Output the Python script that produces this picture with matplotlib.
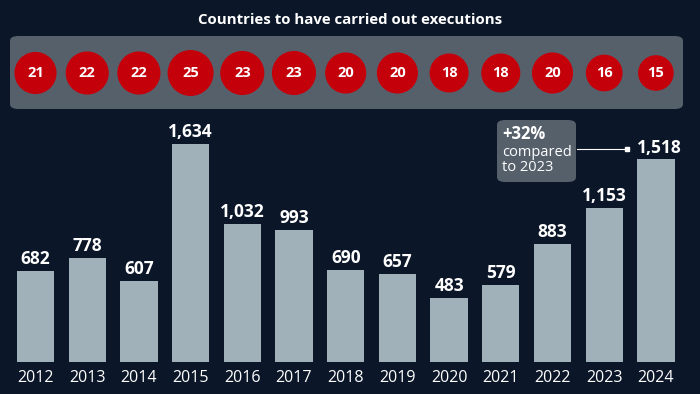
import matplotlib
matplotlib.use("Agg")
import matplotlib.pyplot as plt
from matplotlib.patches import FancyBboxPatch

years = ["2012", "2013", "2014", "2015", "2016", "2017", "2018", "2019", "2020", "2021", "2022", "2023", "2024"]
executions = [682, 778, 607, 1634, 1032, 993, 690, 657, 483, 579, 883, 1153, 1518]
countries = [21, 22, 22, 25, 23, 23, 20, 20, 18, 18, 20, 16, 15]
title = "Countries to have carried out executions"
note_big = "+32%"
note_small = "compared\nto 2023"

BG = "#0b1628"
BAR = "#a1b1ba"
BOX = "#56606b"
RED = "#c4000b"

plt.rcParams['font.family'] = ['Open Sans', 'DejaVu Sans']

fig = plt.figure(figsize=(7, 3.94), dpi=100, facecolor=BG)
ax = fig.add_axes([0, 0, 1, 1])
ax.set_facecolor(BG)
ax.axis('off')

pxu = 51.7
x0 = 35.5
ax.set_xlim(-x0 / pxu, (700 - x0) / pxu)
ups = 1634 / 218.0
ax.set_ylim(-32 * ups, (394 - 32) * ups)

xs = list(range(len(years)))
ax.bar(xs, executions, width=0.72, color=BAR, zorder=2)
for i, v in enumerate(executions):
    dx = 0.07 if i == len(executions) - 1 else 0
    ax.text(i + dx, v + 22, f"{v:,}", color="white", fontsize=12.5, fontweight="bold",
            ha="center", va="bottom")
    ax.text(i, -16 * ups, years[i], color="white", fontsize=11.5, ha="center", va="center")

# title and gray box
ax.text(0.5, 1 - 20 / 394, title, transform=ax.transAxes, color="white", fontsize=10.8,
        fontweight="bold", ha="center", va="center")
box = FancyBboxPatch((10 / 700, 285 / 394), 673 / 700, 73 / 394, transform=ax.transAxes,
                     boxstyle="round,pad=0,rounding_size=0.012", facecolor=BOX,
                     edgecolor="none", zorder=1)
ax.add_patch(box)

cy = (394 - 73 - 32) * ups
sizes = [c * 1096 / 25 for c in countries]
ax.scatter(xs, [cy] * len(xs), s=sizes, color=RED, zorder=3, edgecolors="none")
for i, c in enumerate(countries):
    ax.text(i, cy, str(c), color="white", fontsize=10.5, fontweight="bold",
            ha="center", va="center", zorder=4)

# annotation box
abox = FancyBboxPatch((497 / 700, (394 - 182) / 394), 79 / 700, 62 / 394, transform=ax.transAxes,
                      boxstyle="round,pad=0,rounding_size=0.012", facecolor=BOX,
                      edgecolor="none", zorder=3)
ax.add_patch(abox)
ax.text(502 / 700, (394 - 134) / 394, note_big, transform=ax.transAxes, color="white",
        fontsize=12, fontweight="bold", ha="left", va="center", zorder=4)
ax.text(502 / 700, (394 - 160) / 394, note_small, transform=ax.transAxes, color="white",
        fontsize=10.5, ha="left", va="center", linespacing=0.95, zorder=4)
ly = (394 - 149) / 394
ax.plot([577 / 700, 625 / 700], [ly, ly], transform=ax.transAxes, color="white", lw=0.8, zorder=4)
ax.plot([627 / 700], [ly], transform=ax.transAxes, marker="s", ms=3.5, color="white", zorder=4)

fig.savefig("out.png", dpi=100, facecolor=BG)
